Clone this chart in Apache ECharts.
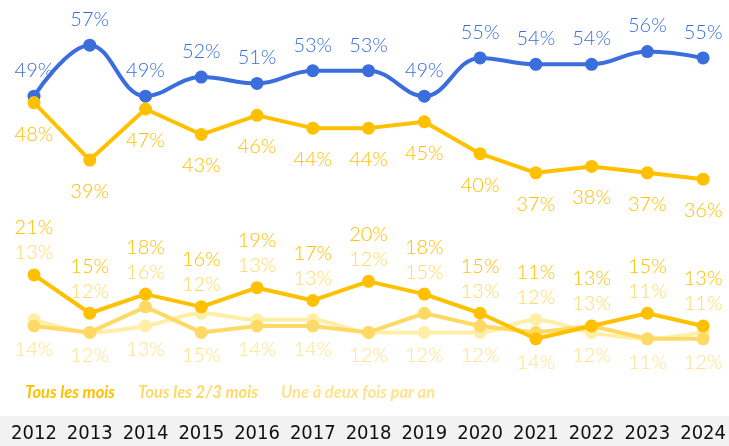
<!DOCTYPE html>
<html>
<head>
<meta charset="utf-8">
<script src="https://cdn.jsdelivr.net/npm/echarts@6/dist/echarts.min.js"></script>
<style>
  html, body { margin: 0; padding: 0; background: #fff; }
  #chart { width: 729px; height: 446px; }
</style>
</head>
<body>
<div id="chart"></div>
<script>
// data
const years = ['2012', '2013', '2014', '2015', '2016', '2017', '2018', '2019', '2020', '2021', '2022', '2023', '2024'];
const blueValues = [49, 57, 49, 52, 51, 53, 53, 49, 55, 54, 54, 56, 55];
const yellowValues = [48, 39, 47, 43, 46, 44, 44, 45, 40, 37, 38, 37, 36];
const monthly = [21, 15, 18, 16, 19, 17, 20, 18, 15, 11, 13, 15, 13];
const everyTwoThree = [13, 12, 16, 12, 13, 13, 12, 15, 13, 12, 13, 11, 11];
const onceTwice = [14, 12, 13, 15, 14, 14, 12, 12, 12, 14, 12, 11, 12];

const blue = '#3A6EDC';
const gold = '#FFC000';
const mid = '#FFD966';
const pale = '#FFEFA6';
const paleText = '#FFE38C';

const labelFont = "Lato, 'Noto Sans', sans-serif";
const yMin = 0, yMax = 60;
const gridTop = 26, gridBottom = 37;
const pxPerUnit = (446 - gridTop - gridBottom) / (yMax - yMin);

const chart = echarts.init(document.getElementById('chart'));

// light labels sit under the lowest of the three small series
const paleData = onceTwice.map((v, i) => {
    const low = Math.min(monthly[i], everyTwoThree[i], v);
    return { value: v, label: { offset: [0, (v - low) * pxPerUnit] } };
});

// monthly labels (with the 2/3 mois value under) sit above the highest of the three
const monthlyData = monthly.map((v, i) => {
    const high = Math.max(everyTwoThree[i], onceTwice[i], v);
    return { value: v, label: { offset: [0, -(high - v) * pxPerUnit] } };
});

const option = {
    animation: false,
    grid: { left: 34, right: 25, top: gridTop, bottom: gridBottom },
    graphic: [{
        type: 'rect',
        shape: { x: 0, y: 416, width: 729, height: 30 },
        style: { fill: '#F2F2F2' },
        z: -1
    }],
    legend: {
        left: 14,
        top: 379,
        itemWidth: 0,
        itemHeight: 0,
        itemGap: 17,
        selectedMode: false,
        textStyle: { fontFamily: labelFont, fontSize: 16.5, fontWeight: 'bold', fontStyle: 'italic' },
        data: [
            { name: 'Tous les mois', textStyle: { color: gold } },
            { name: 'Tous les 2/3 mois', textStyle: { color: mid } },
            { name: 'Une à deux fois par an', textStyle: { color: paleText } }
        ]
    },
    xAxis: {
        type: 'category',
        data: years,
        boundaryGap: false,
        axisLine: { show: false },
        axisTick: { show: false },
        axisLabel: {
            interval: 0,
            hideOverlap: false,
            margin: 15,
            color: '#111',
            fontSize: 20,
            fontFamily: "'Liberation Sans Narrow', 'DejaVu Sans Condensed', 'Roboto Condensed', sans-serif"
        }
    },
    yAxis: { type: 'value', min: yMin, max: yMax, show: false, splitLine: { show: false } },
    series: [
        {
            name: 'Une à deux fois par an',
            type: 'line',
            smooth: 0.3,
            data: paleData,
            symbol: 'circle',
            symbolSize: 13,
            lineStyle: { width: 4, color: pale },
            itemStyle: { color: pale },
            label: {
                show: true, position: 'bottom', distance: 7, formatter: '{c}%',
                color: paleText, fontSize: 20, fontFamily: labelFont, fontWeight: 300
            },
            z: 2
        },
        {
            name: 'Tous les 2/3 mois',
            type: 'line',
            data: everyTwoThree,
            symbol: 'circle',
            symbolSize: 13,
            lineStyle: { width: 4, color: mid },
            itemStyle: { color: mid },
            z: 3
        },
        {
            name: 'Tous les mois',
            type: 'line',
            data: monthlyData,
            symbol: 'circle',
            symbolSize: 13,
            lineStyle: { width: 4, color: gold },
            itemStyle: { color: gold },
            label: {
                show: true, position: 'top', distance: 3,
                // the 2/3 mois value is stacked right under the monthly value
                formatter: p => '{a|' + p.value + '%}\n{b|' + everyTwoThree[p.dataIndex] + '%}',
                rich: {
                    a: { color: gold, fontSize: 20, fontFamily: labelFont, fontWeight: 300, lineHeight: 25 },
                    b: { color: mid, fontSize: 20, fontFamily: labelFont, fontWeight: 300, lineHeight: 25 }
                }
            },
            z: 4
        },
        {
            name: 'Total',
            type: 'line',
            smooth: 0.4,
            data: blueValues,
            symbol: 'circle',
            symbolSize: 13,
            lineStyle: { width: 4, color: blue },
            itemStyle: { color: blue },
            label: {
                show: true, position: 'top', distance: 9, formatter: '{c}%',
                color: blue, fontSize: 20, fontFamily: labelFont, fontWeight: 300
            },
            z: 4
        },
        {
            name: 'Jamais',
            type: 'line',
            data: yellowValues,
            symbol: 'circle',
            symbolSize: 13,
            lineStyle: { width: 4, color: gold },
            itemStyle: { color: gold },
            label: {
                show: true, position: 'bottom', distance: 15, formatter: '{c}%',
                color: gold, fontSize: 20, fontFamily: labelFont, fontWeight: 300
            },
            z: 5
        }
    ]
};

chart.setOption(option);
</script>
</body>
</html>
